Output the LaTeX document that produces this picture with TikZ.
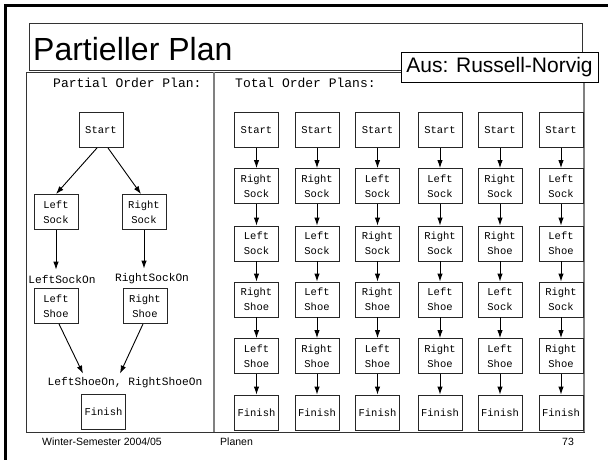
\documentclass[tikz,border=0pt]{standalone}
\usepackage{fontspec}
\setmainfont{Liberation Sans}
\setmonofont{Liberation Mono}
\usetikzlibrary{arrows.meta}

\newcommand\lblRS{Right\\Sock}
\newcommand\lblLS{Left\\Sock}
\newcommand\lblRH{Right\\Shoe}
\newcommand\lblLH{Left\\Shoe}

\begin{document}
\begin{tikzpicture}[x=1pt,y=-1pt,
  act/.style={draw=black!85,line width=0.9pt,minimum width=44pt,minimum height=35pt,
    inner sep=0pt,align=center,font=\ttfamily\fontsize{10.5}{15}\selectfont},
  cond/.style={inner sep=0pt,font=\ttfamily\fontsize{11.2}{13}\selectfont},
  head/.style={inner sep=0pt,anchor=west,font=\ttfamily\fontsize{13}{15}\selectfont},
  foot/.style={inner sep=0pt,font=\fontsize{10.5}{12}\selectfont},
  arr/.style={-{Latex[length=8pt,width=5.5pt]},line width=0.9pt}]
\useasboundingbox (0,0) rectangle (608,459);
% slide frame and title
\draw[line width=2.6pt] (5.3,5.3) rectangle (640,490);
\draw[line width=0.8pt,draw=black!80] (29,23) rectangle (582,70);
\node[anchor=base west,inner sep=0pt,font=\fontsize{32}{32}\selectfont] (title) at (33,60) {Partieller Plan};
% picture frame
\draw[line width=0.8pt,draw=black!80] (26,72) rectangle (584,432);
\draw[line width=1.5pt,draw=gray] (214,72) -- (214,432);
\draw[line width=1.5pt,draw=gray] (584,72) -- (584,432);
\node[draw,fill=white,line width=0.8pt,minimum width=197pt,minimum height=30pt,inner sep=0pt,
  font=\fontsize{21}{21}\selectfont] (src) at (499.5,67) {Aus: Russell-Norvig};
\node[head] (phead) at (53,83) {Partial Order Plan:};
\node[head] (thead) at (235,83) {Total Order Plans:};

% partial order plan
\node[act] (ps) at (101,130) {Start};
\node[act] (pls) at (56,212) {\lblLS};
\node[act] (prs) at (144,212) {\lblRS};
\node[cond] (lson) at (62,279) {LeftSockOn};
\node[cond] (rson) at (152,279) {RightSockOn};
\node[act] (plh) at (56,306) {\lblLH};
\node[act] (prh) at (145,306) {\lblRH};
\node[cond] (goal) at (125,383) {LeftShoeOn, RightShoeOn};
\node[act] (pf) at (103.5,412) {Finish};
\draw[arr] ([xshift=-4pt]ps.south) -- (pls.north);
\draw[arr] ([xshift=7pt]ps.south) -- ([xshift=-3pt]prs.north);
\draw[arr] (pls.south) -- ([yshift=5pt]pls.south |- lson.north);
\draw[arr] (prs.south) -- ([yshift=5pt]prs.south |- rson.north);
\draw[arr] ([xshift=3pt]plh.south) -- ([xshift=-42pt,yshift=4pt]goal.north);
\draw[arr] ([xshift=-2pt]prh.south) -- ([xshift=-5pt,yshift=4pt]goal.north);

% total order plans
\foreach \c/\x/\a/\b/\d/\e in {1/256.5/RS/LS/RH/LH, 2/317/RS/LS/LH/RH, 3/377.5/LS/RS/RH/LH,
    4/440/LS/RS/LH/RH, 5/500/RS/RH/LS/LH, 6/561/LS/LH/RS/RH}{
  \node[act] (t\c-0) at (\x,130) {Start};
  \node[act] (t\c-1) at (\x,186) {\csname lbl\a\endcsname};
  \node[act] (t\c-2) at (\x,243.5) {\csname lbl\b\endcsname};
  \node[act] (t\c-3) at (\x,299.5) {\csname lbl\d\endcsname};
  \node[act] (t\c-4) at (\x,356) {\csname lbl\e\endcsname};
  \node[act] (t\c-5) at (\x,412.5) {Finish};
  \foreach \r [count=\s from 1] in {0,...,4}
    \draw[arr] (t\c-\r) -- (t\c-\s);
}

% footer
\node[foot] (term) at (102,442) {Winter-Semester 2004/05};
\node[foot,anchor=west] (topic) at (220,442) {Planen};
\node[foot] (page) at (568,442) {73};
\end{tikzpicture}
\end{document}
